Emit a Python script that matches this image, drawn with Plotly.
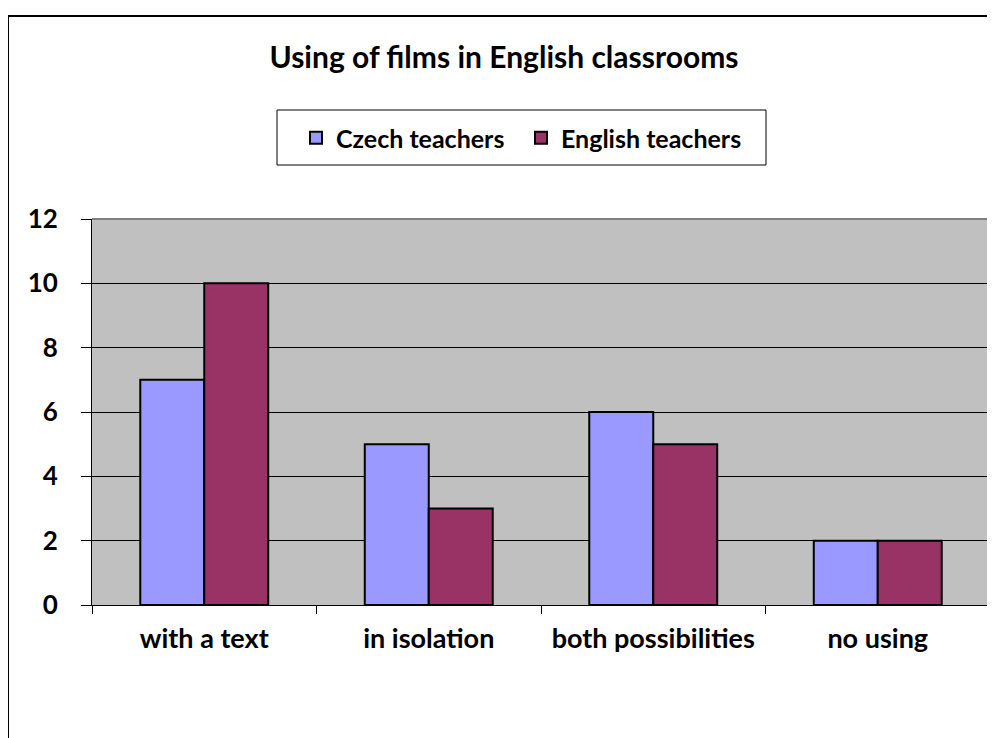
import plotly.graph_objects as go

categories = ["with a text", "in isolation", "both possibilities", "no using"]
czech_values = [7, 5, 6, 2]
english_values = [10, 3, 5, 2]
series_names = ["Czech teachers", "English teachers"]
y_ticks = [0, 2, 4, 6, 8, 10, 12]

FONT = "Lato"
O = 8  # page body margin
W, H = 995 - O, 738 - O
L, R, T, B = 92 - O, 990 - O, 219 - O, 605 - O
pw, ph = R - L, B - T

def px_x(x):
    return (x - O - L) / pw

def px_y(y):
    return (B - (y - O)) / ph

fig = go.Figure()
fig.add_trace(go.Bar(x=categories, y=czech_values, name=series_names[0],
                     marker=dict(color="#9999FF", line=dict(color="black", width=2))))
fig.add_trace(go.Bar(x=categories, y=english_values, name=series_names[1],
                     marker=dict(color="#993366", line=dict(color="black", width=2))))

bold = dict(family=FONT, color="black", weight="bold")

fig.update_layout(
    width=W, height=H,
    margin=dict(l=L, r=W - R, t=T, b=H - B, autoexpand=False),
    paper_bgcolor="white", plot_bgcolor="#C0C0C0",
    barmode="group", bargap=0.43, bargroupgap=0,
    font=bold,
    title=dict(text="Using of films in English classrooms", x=(504 - O) / W, xanchor="center",
               y=1 - (57 - O) / H, yanchor="middle", font=dict(size=30, **bold)),
    showlegend=True,
    legend=dict(orientation="h", x=px_x(521), xanchor="center", y=px_y(138), yanchor="middle",
                bgcolor="rgba(0,0,0,0)", borderwidth=0,
                font=dict(size=25, **bold), itemwidth=30, entrywidth=180, entrywidthmode="pixels"),
    xaxis=dict(showline=True, linecolor="black", linewidth=1, ticks="outside", tickson="boundaries",
               ticklen=8, tickcolor="black", tickfont=dict(size=27, **bold),
               ticklabelstandoff=10),
    yaxis=dict(range=[0, 12], tickvals=y_ticks, showline=True, linecolor="black", linewidth=1,
               ticks="outside", ticklen=10, tickcolor="black", showgrid=True, gridcolor="black",
               gridwidth=1, tickfont=dict(size=26, **bold), ticklabelstandoff=18,
               zeroline=False),
    shapes=[
        dict(type="path", xref="paper", yref="paper",
             path="M 0 1 L 1 1 L 1 0", line=dict(color="#808080", width=2), layer="above"),
        dict(type="rect", xref="paper", yref="paper", x0=px_x(277), x1=px_x(766),
             y0=px_y(165), y1=px_y(110), line=dict(color="black", width=1)),
        dict(type="rect", xref="paper", yref="paper", x0=px_x(8), x1=px_x(1010),
             y0=px_y(760), y1=px_y(16), line=dict(color="black", width=2)),
    ],
)

fig.write_html("out.html")
